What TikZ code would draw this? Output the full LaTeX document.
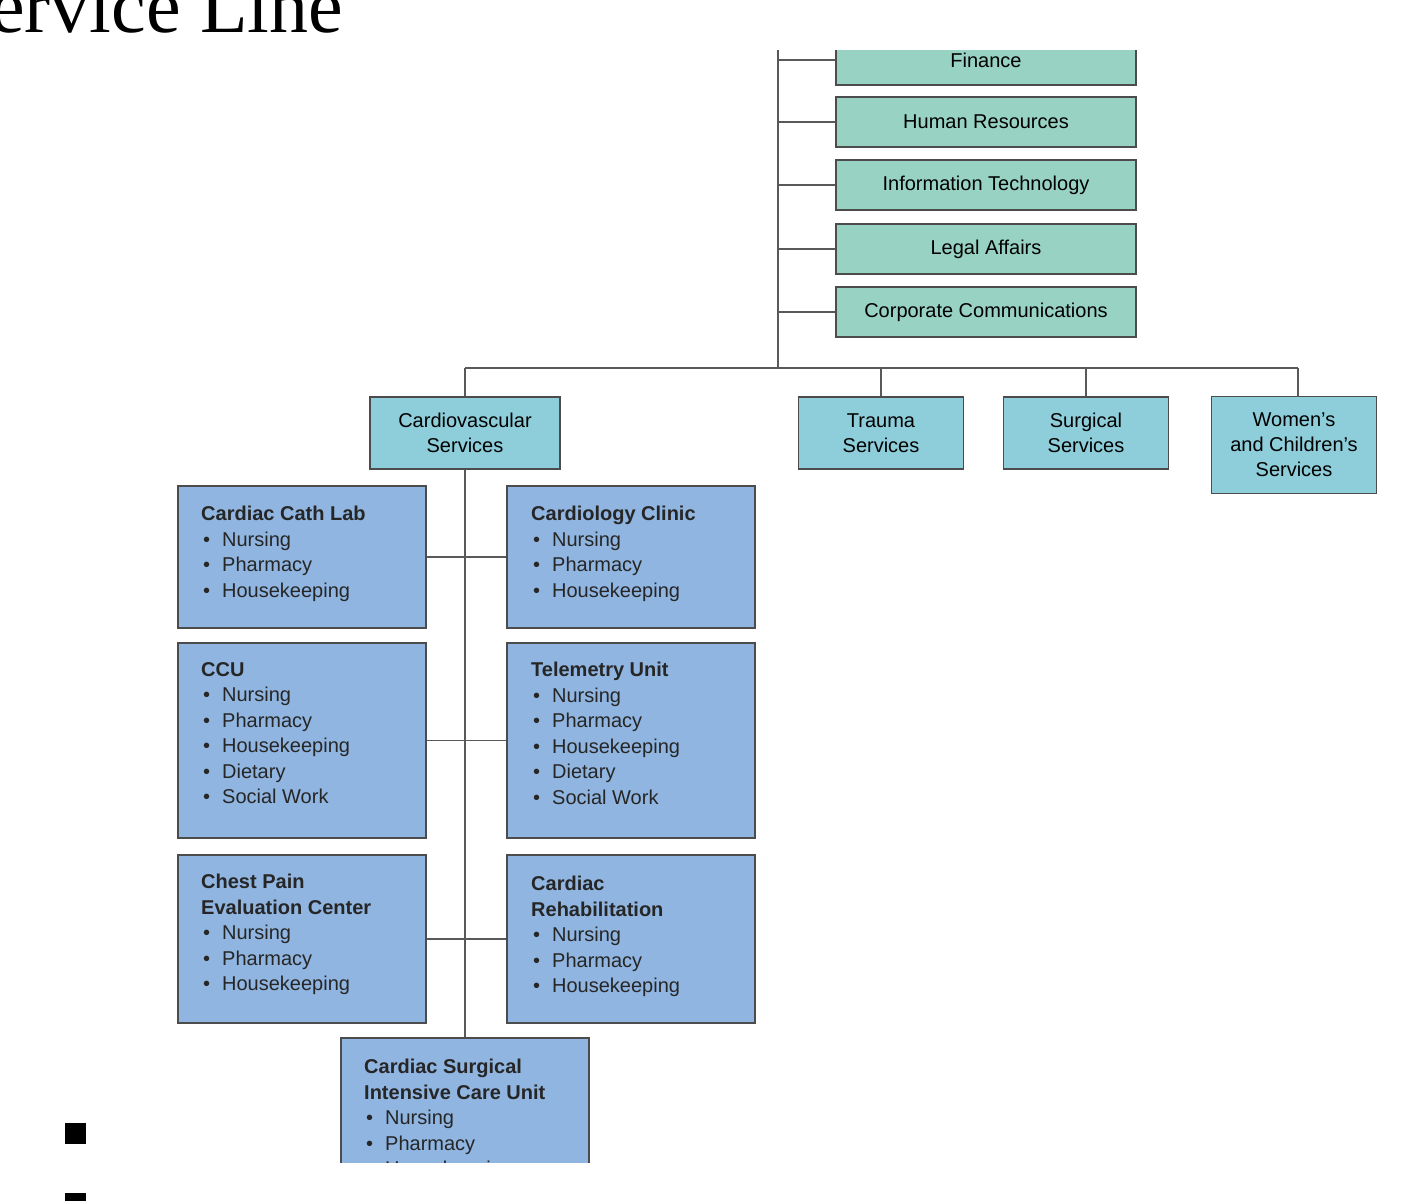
\documentclass[tikz,border=0pt]{standalone}
\usepackage{fontspec}
\setmainfont{Liberation Sans}
\newfontfamily\serifx{Liberation Serif}
\begin{document}
\begin{tikzpicture}[x=1pt,y=-1pt,
 teal/.style={draw=black!70,line width=1.6pt,fill=tealc,font=\fontsize{20}{25}\selectfont,align=center,inner sep=0pt},
 cyan/.style={draw=black!70,line width=1.6pt,fill=cyanc,font=\fontsize{20}{25}\selectfont,align=center,inner sep=0pt},
 blue/.style={draw=black!70,line width=1.6pt,fill=bluec,inner sep=0pt},
 lst/.style={anchor=north west,inner sep=0pt,font=\fontsize{20}{25.5}\selectfont,align=left,text=black!85},
 ln/.style={draw=black!65,line width=1.6pt}]
\definecolor{tealc}{HTML}{97D2C2}
\definecolor{cyanc}{HTML}{8DCEDA}
\definecolor{bluec}{HTML}{8FB5E0}
\useasboundingbox (0,0) rectangle (1425,1200);
\clip (0,0) rectangle (1425,1200);
% title
\node[anchor=base west,inner sep=0pt,font=\serifx\fontsize{78}{78}\selectfont] (title) at (-10,32) {ervice Line};
% teal column
\coordinate (vt) at (778,50);
\coordinate (vb) at (778,368);
\draw[ln] (vt) -- (vb);
\foreach \n/\y/\t in {fin/60/Finance,hr/122/Human Resources,it/185/Information Technology,la/249/Legal Affairs,cc/312/Corporate Communications}{
  \node[teal,minimum width=300pt,minimum height=50pt] (\n) at (986,\y) {\t};
  \draw[ln] (778,\y) -- (\n.west);
}
\fill[white] (800,0) rectangle (1200,50);
% service lines
\node[cyan,minimum width=190pt,minimum height=72pt] (cv) at (465,433) {Cardiovascular\\Services};
\node[cyan,minimum width=165pt,minimum height=72pt] (tr) at (881,433) {Trauma\\Services};
\node[cyan,minimum width=165pt,minimum height=72pt] (su) at (1086,433) {Surgical\\Services};
\node[cyan,minimum width=165pt,minimum height=97pt] (wc) at (1294,445) {Women's\\and Children's\\Services};
\coordinate (h1) at (465,368); \coordinate (h2) at (1298,368);
\draw[ln] (h1) -- (h2);
\foreach \b in {cv,tr,su}{\draw[ln] (\b.north) -- (\b.north |- h1);}
\draw[ln] (h2) -- (1298,396.5);
% blue boxes
\node[blue,minimum width=248pt,minimum height=142pt] (cath) at (302,557) {};
\node[blue,minimum width=248pt,minimum height=142pt] (clin) at (631,557) {};
\node[blue,minimum width=248pt,minimum height=195pt] (ccu) at (302,740.5) {};
\node[blue,minimum width=248pt,minimum height=195pt] (tel) at (631,740.5) {};
\node[blue,minimum width=248pt,minimum height=168pt] (chest) at (302,939) {};
\node[blue,minimum width=248pt,minimum height=168pt] (rehab) at (631,939) {};
\node[blue,minimum width=248pt,minimum height=140pt] (csi) at (465,1108) {};
\draw[ln] (cv.south) -- (csi.north);
\draw[ln] (cath.east) -- (clin.west);
\draw[ln] (ccu.east) -- (tel.west);
\draw[ln] (chest.east) -- (rehab.west);
\def\it#1{\\\hspace*{2pt}\textbullet\hspace{12pt}#1}
\node[lst] (t1) at (201,506) {\textbf{Cardiac Cath Lab}\it{Nursing}\it{Pharmacy}\it{Housekeeping}};
\node[lst] (t2) at (531,506) {\textbf{Cardiology Clinic}\it{Nursing}\it{Pharmacy}\it{Housekeeping}};
\node[lst] (t3) at (201,662) {\textbf{CCU}\it{Nursing}\it{Pharmacy}\it{Housekeeping}\it{Dietary}\it{Social Work}};
\node[lst] (t4) at (531,662) {\textbf{Telemetry Unit}\it{Nursing}\it{Pharmacy}\it{Housekeeping}\it{Dietary}\it{Social Work}};
\node[lst] (t5) at (201,874) {\textbf{Chest Pain}\\\textbf{Evaluation Center}\it{Nursing}\it{Pharmacy}\it{Housekeeping}};
\node[lst] (t6) at (531,876) {\textbf{Cardiac}\\\textbf{Rehabilitation}\it{Nursing}\it{Pharmacy}\it{Housekeeping}};
\node[lst] (t7) at (364,1059) {\textbf{Cardiac Surgical}\\\textbf{Intensive Care Unit}\it{Nursing}\it{Pharmacy}\it{Housekeeping}};
\fill[white] (300,1163) rectangle (700,1200);
% bullets
\node[fill=black,minimum size=21pt,inner sep=0pt] (b1) at (75,1133) {};
\node[fill=black,minimum width=21pt,minimum height=8pt,inner sep=0pt] (b2) at (75,1197) {};
\end{tikzpicture}
\end{document}
